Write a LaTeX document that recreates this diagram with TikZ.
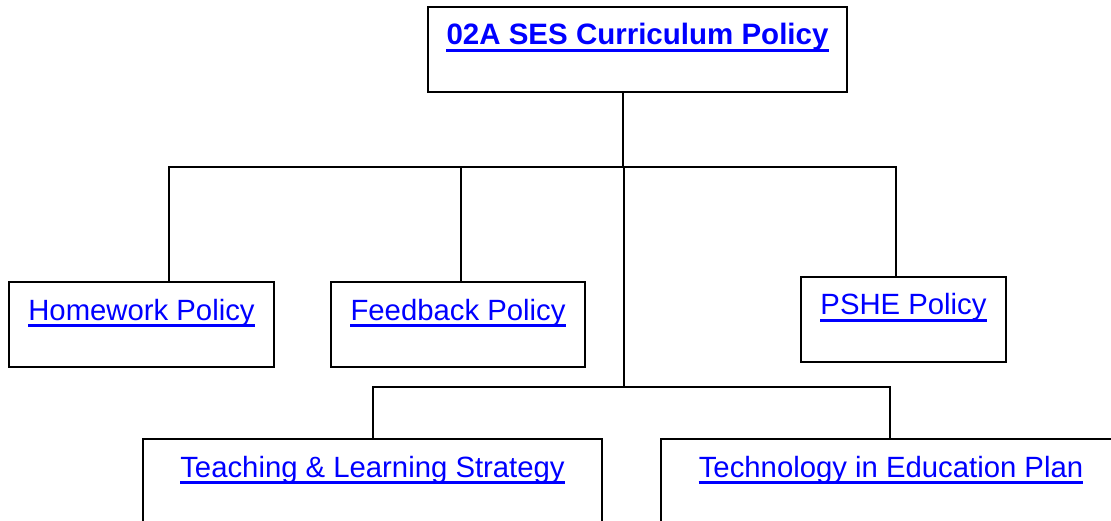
\documentclass[tikz,border=0pt]{standalone}
\usepackage{fontspec}
\setmainfont{Liberation Sans}
\definecolor{linkblue}{RGB}{0,0,255}
\tikzset{
  box/.style={draw=black, line width=2pt, fill=white, inner sep=0pt, rectangle},
  lnk/.style={anchor=base, inner sep=0pt, text=linkblue, font=\fontsize{29.3}{34}\selectfont},
  conn/.style={draw=black, line width=2.8pt, line cap=rect},
  uline/.style={draw=linkblue, line width=3pt}
}
\begin{document}
\begin{tikzpicture}[x=1pt,y=-1pt]
\useasboundingbox (0,0) rectangle (1111,521);
\clip (0,0) rectangle (1111,521);
% junction coordinates
\coordinate (j0) at (623,167);
\coordinate (jhw) at (169,167);
\coordinate (jfb) at (461,167);
\coordinate (jps) at (896,167);
\coordinate (j1) at (624,387);
\coordinate (jte) at (373,387);
\coordinate (jtc) at (890,387);
% boxes
\node[box, minimum width=419pt, minimum height=85pt] (top) at (637.5,49.5) {};
\node[box, minimum width=265pt, minimum height=85pt] (hw) at (141.5,324.5) {};
\node[box, minimum width=254pt, minimum height=85pt] (fb) at (458,324.5) {};
\node[box, minimum width=205pt, minimum height=85pt] (ps) at (903.5,319.5) {};
\node[box, minimum width=459pt, minimum height=120pt] (te) at (372.5,499) {};
\node[box, minimum width=460pt, minimum height=120pt] (tc) at (891,499) {};
% connectors
\draw[conn] (top.south -| j0) -- (j0);
\draw[conn] (jhw) -- (jps);
\draw[conn] (jhw) -- (jhw |- hw.north);
\draw[conn] (jfb) -- (jfb |- fb.north);
\draw[conn] (jps) -- (jps |- ps.north);
\draw[conn] (j0 -| j1) -- (j1);
\draw[conn] (jte) -- (jtc);
\draw[conn] (jte) -- (jte |- te.north);
\draw[conn] (jtc) -- (jtc |- tc.north);
% texts
\node[lnk, font=\fontsize{29.5}{34}\selectfont\bfseries] (ttop) at (637.5,45) {02A SES Curriculum Policy};
\node[lnk] (thw) at (141.5,320) {Homework Policy};
\node[lnk] (tfb) at (458,320) {Feedback Policy};
\node[lnk] (tps) at (903.5,315) {PSHE Policy};
\node[lnk] (tte) at (372.5,477) {Teaching \& Learning Strategy};
\node[lnk] (ttc) at (891,477) {Technology in Education Plan};
% underlines
\foreach \t in {ttop,thw,tfb,tps,tte,ttc}{
  \draw[uline] ([yshift=-5.5pt]\t.base west) -- ([yshift=-5.5pt]\t.base east);
}
\end{tikzpicture}
\end{document}
